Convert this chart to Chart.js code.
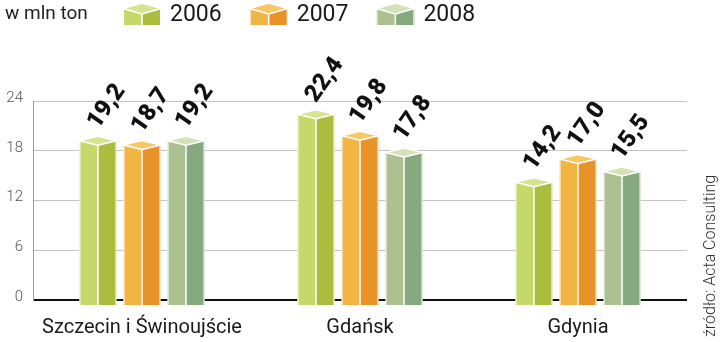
<!DOCTYPE html>
<html>
<head>
<meta charset="utf-8">
<script src="https://cdn.jsdelivr.net/npm/chart.js@4.4.1/dist/chart.umd.min.js"></script>
<style>
  html, body { margin: 0; padding: 0; background: #fff; }
  #wrap { width: 720px; height: 342px; }
</style>
</head>
<body>
<div id="wrap"><canvas id="c" width="720" height="342"></canvas></div>
<script>
const categories = ['Szczecin i Świnoujście', 'Gdańsk', 'Gdynia'];
const years = ['2006', '2007', '2008'];
const tons2006 = [19.2, 22.4, 14.2];
const tons2007 = [18.7, 19.8, 17.0];
const tons2008 = [19.2, 17.8, 15.5];
const yTicks = [0, 6, 12, 18, 24];
const unitLabel = 'w mln ton';
const sourceLabel = 'źródło: Acta Consulting';

// Face colours for each year: left face, right face, top face
const palette = [
  { left: '#c5d86a', right: '#abbd3f', top: '#d6e48f' },
  { left: '#f3b542', right: '#e8932a', top: '#f7c766' },
  { left: '#abc18f', right: '#87a97f', top: '#d6e1b8' }
];

// A square column seen from a corner: two side faces and a diamond top
function drawPrism(ctx, left, right, top, bottom, d, col) {
  const cx = (left + right) / 2;
  ctx.save();
  ctx.beginPath();
  ctx.moveTo(left, top); ctx.lineTo(cx, top + d); ctx.lineTo(cx, bottom); ctx.lineTo(left, bottom);
  ctx.closePath();
  ctx.fillStyle = col.left; ctx.fill();
  ctx.beginPath();
  ctx.moveTo(cx, top + d); ctx.lineTo(right, top); ctx.lineTo(right, bottom); ctx.lineTo(cx, bottom);
  ctx.closePath();
  ctx.fillStyle = col.right; ctx.fill();
  ctx.beginPath();
  ctx.moveTo(left, top); ctx.lineTo(cx, top - d); ctx.lineTo(right, top); ctx.lineTo(cx, top + d);
  ctx.closePath();
  ctx.fillStyle = col.top; ctx.fill();
  ctx.strokeStyle = '#ffffff';
  ctx.lineWidth = 1.5;
  ctx.lineJoin = 'round';
  ctx.stroke();
  ctx.beginPath();
  ctx.moveTo(cx, top + d); ctx.lineTo(cx, bottom);
  ctx.stroke();
  ctx.lineWidth = 1;
  ctx.beginPath();
  ctx.moveTo(left + 0.5, top); ctx.lineTo(left + 0.5, bottom);
  ctx.moveTo(right - 0.5, top); ctx.lineTo(right - 0.5, bottom);
  ctx.stroke();
  ctx.restore();
}

const formatValue = v => v.toFixed(1).replace('.', ',');

const prismPlugin = {
  id: 'prisms',
  afterDatasetsDraw(chart) {
    const ctx = chart.ctx;
    const bars = [];
    chart.data.datasets.forEach((ds, i) => {
      chart.getDatasetMeta(i).data.forEach((bar, j) => {
        const p = bar.getProps(['x', 'y', 'base', 'width'], true);
        bars.push({ p, i, value: ds.data[j] });
        drawPrism(ctx, p.x - p.width / 2, p.x + p.width / 2, p.y, p.base + 6, 4.5, palette[i]);
      });
    });
    // rotated value labels above each column
    ctx.save();
    ctx.fillStyle = '#111';
    ctx.font = '900 24px Roboto';
    ctx.textAlign = 'left';
    ctx.textBaseline = 'alphabetic';
    bars.forEach(({ p, value }) => {
      ctx.save();
      ctx.translate(p.x, p.y - 11);
      ctx.rotate(-55 * Math.PI / 180);
      ctx.fillText(formatValue(value), 0, 0);
      ctx.restore();
    });
    ctx.restore();
  },
  afterDraw(chart) {
    const ctx = chart.ctx;
    ctx.save();
    // unit caption
    ctx.fillStyle = '#222';
    ctx.font = '19px Roboto';
    ctx.textBaseline = 'middle';
    ctx.textAlign = 'left';
    ctx.fillText(unitLabel, 5, 14);
    // legend with cube markers
    let x = 123;
    ctx.font = '23px Roboto';
    years.forEach((yr, i) => {
      drawPrism(ctx, x, x + 38, 8.5, 25, 5.5, palette[i]);
      const tx = x + 47;
      ctx.fillStyle = '#1a1a1a';
      ctx.fillText(yr, tx, 15);
      x = tx + ctx.measureText(yr).width + 28;
    });
    // source note along the right edge
    ctx.translate(711, 337);
    ctx.rotate(-Math.PI / 2);
    ctx.font = '300 16px Roboto';
    ctx.fillStyle = '#333';
    ctx.textBaseline = 'middle';
    ctx.fillText(sourceLabel, 0, 0);
    ctx.restore();
  }
};

new Chart(document.getElementById('c'), {
  type: 'bar',
  data: {
    labels: categories,
    datasets: [
      { label: years[0], data: tons2006, backgroundColor: 'rgba(0,0,0,0)' },
      { label: years[1], data: tons2007, backgroundColor: 'rgba(0,0,0,0)' },
      { label: years[2], data: tons2008, backgroundColor: 'rgba(0,0,0,0)' }
    ]
  },
  options: {
    responsive: false,
    devicePixelRatio: 1,
    animation: false,
    layout: { padding: { top: 101, right: 33, left: 0, bottom: 0 } },
    datasets: { bar: { categoryPercentage: 0.606, barPercentage: 0.84 } },
    plugins: { legend: { display: false }, tooltip: { enabled: false } },
    scales: {
      x: {
        grid: { display: false },
        border: { display: false },
        ticks: { color: '#1a1a1a', font: { family: 'Roboto', size: 20 }, padding: 8, maxRotation: 0, autoSkip: false },
        afterFit(s) { s.height = 42; }
      },
      y: {
        min: 0,
        max: 24,
        afterBuildTicks(s) { s.ticks = yTicks.map(v => ({ value: v })); },
        ticks: { color: '#555', font: { family: 'Roboto', size: 15, weight: '300' }, padding: 10, labelOffset: -3 },
        grid: {
          drawTicks: false,
          color: c => c.tick && c.tick.value === 0 ? '#111' : '#c4c4c4',
          lineWidth: c => c.tick && c.tick.value === 0 ? 2 : 1
        },
        border: { display: true, color: '#9a9a9a', width: 1 },
        afterFit(s) { s.width = 33; }
      }
    }
  },
  plugins: [prismPlugin]
});
</script>
</body>
</html>
